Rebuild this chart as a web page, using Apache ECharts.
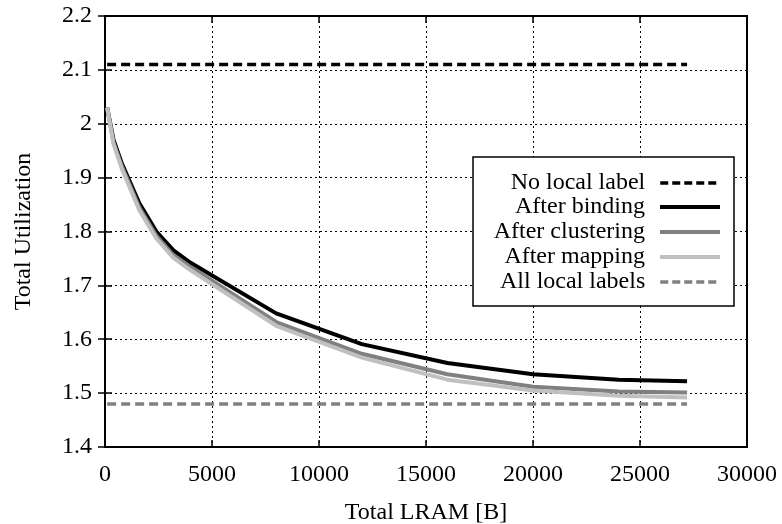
<!DOCTYPE html>
<html>
<head>
<meta charset="utf-8">
<script src="https://cdn.jsdelivr.net/npm/echarts@6/dist/echarts.min.js"></script>
<style>
  html, body { margin: 0; padding: 0; background: #fff; }
  #chart { width: 782px; height: 524px; }
</style>
</head>
<body>
<div id="chart"></div>
<script>
// values
var lram = [100, 400, 800, 1600, 2400, 3200, 4000, 8000, 12000, 16000, 20000, 24000, 27200];
var afterBinding    = [2.03, 1.97, 1.925, 1.853, 1.80, 1.765, 1.742, 1.648, 1.591, 1.556, 1.535, 1.525, 1.522];
var afterClustering = [2.03, 1.965, 1.92, 1.845, 1.792, 1.756, 1.734, 1.632, 1.573, 1.535, 1.512, 1.503, 1.501];
var afterMapping    = [2.03, 1.962, 1.915, 1.84, 1.787, 1.751, 1.728, 1.625, 1.566, 1.525, 1.505, 1.495, 1.492];
var noLocalLabel = 2.11;
var allLocalLabels = 1.48;
var lineStart = 100, lineEnd = 27200;

var names = ['No local label', 'After binding', 'After clustering', 'After mapping', 'All local labels'];

function pairs(ys) {
    return lram.map(function (x, i) { return [x, ys[i]] })
}

var font = '"Liberation Serif", "Times New Roman", serif';
var myChart = echarts.init(document.getElementById('chart'));

var series = [
    {
        name: names[0], type: 'line', symbol: 'none',
        data: [[lineStart, noLocalLabel], [lineEnd, noLocalLabel]],
        lineStyle: { color: '#000', width: 3.5, type: [9, 5] }, itemStyle: { color: '#000' }
    },
    {
        name: names[1], type: 'line', symbol: 'none', data: pairs(afterBinding),
        lineStyle: { color: '#000', width: 4 }, itemStyle: { color: '#000' }
    },
    {
        name: names[2], type: 'line', symbol: 'none', data: pairs(afterClustering),
        lineStyle: { color: '#808080', width: 4 }, itemStyle: { color: '#808080' }
    },
    {
        name: names[3], type: 'line', symbol: 'none', data: pairs(afterMapping),
        lineStyle: { color: '#c0c0c0', width: 4 }, itemStyle: { color: '#c0c0c0' }
    },
    {
        name: names[4], type: 'line', symbol: 'none',
        data: [[lineStart, allLocalLabels], [lineEnd, allLocalLabels]],
        lineStyle: { color: '#808080', width: 3.5, type: [9, 5] }, itemStyle: { color: '#808080' }
    }
];

// one legend per row so the labels line up on the right like gnuplot
var rowTops = [171, 195, 220, 245, 270];
var legends = names.map(function (n, i) {
    var dashed = (i === 0 || i === 4);
    return {
        data: [n],
        orient: 'vertical',
        align: 'right',
        right: 60,
        top: rowTops[i],
        padding: 0,
        itemWidth: 60,
        itemHeight: 14,
        selectedMode: false,
        itemStyle: { opacity: 0 },
        lineStyle: dashed ? { type: [8, 4], width: 3.5 } : { width: 4 },
        textStyle: { fontFamily: font, fontSize: 24, color: '#000', lineHeight: 24, padding: [0, 10, 0, 0] }
    }
});

var tickStyle = { show: true, inside: true, length: 7, lineStyle: { color: '#000', width: 1.5 } };
var gridLine = { show: true, lineStyle: { color: '#000', width: 1, type: [2, 3] } };
var labelStyle = { fontFamily: font, fontSize: 24, color: '#000' };

myChart.setOption({
    animation: false,
    backgroundColor: '#fff',
    grid: {
        left: 105, right: 35, top: 16, bottom: 77,
        outerBoundsMode: 'none', containLabel: false,
        show: true, borderColor: '#000', borderWidth: 2
    },
    legend: legends,
    graphic: [{
        type: 'rect', z: 3,
        shape: { x: 473, y: 157, width: 261, height: 149 },
        style: { fill: '#fff', stroke: '#000', lineWidth: 1.5 }
    }],
    xAxis: [
        {
            type: 'value', min: 0, max: 30000, interval: 5000,
            name: 'Total LRAM [B]', nameLocation: 'middle', nameGap: 54,
            nameTextStyle: labelStyle,
            axisLine: { show: false }, axisTick: tickStyle,
            axisLabel: Object.assign({ margin: 16, formatter: function (v) { return String(v) } }, labelStyle),
            splitLine: gridLine
        },
        {
            type: 'value', position: 'top', min: 0, max: 30000, interval: 5000,
            axisLine: { show: false }, axisTick: tickStyle,
            axisLabel: { show: false }, splitLine: { show: false }
        }
    ],
    yAxis: [
        {
            type: 'value', min: 1.4, max: 2.2, interval: 0.1,
            name: 'Total Utilization', nameLocation: 'middle', nameGap: 69, nameRotate: 90,
            nameTextStyle: labelStyle,
            axisLine: { show: false }, axisTick: tickStyle,
            axisLabel: Object.assign({ margin: 13 }, labelStyle),
            splitLine: gridLine
        },
        {
            type: 'value', position: 'right', min: 1.4, max: 2.2, interval: 0.1,
            axisLine: { show: false }, axisTick: tickStyle,
            axisLabel: { show: false }, splitLine: { show: false }
        }
    ],
    series: series
});
</script>
</body>
</html>
